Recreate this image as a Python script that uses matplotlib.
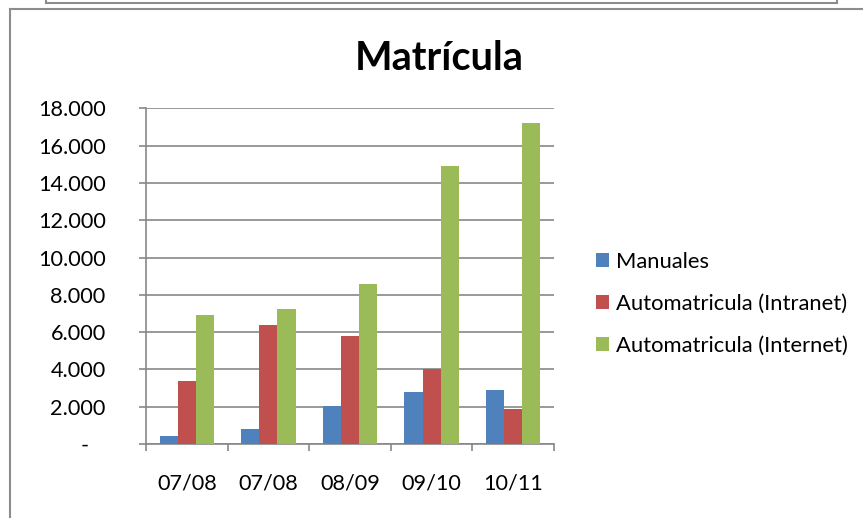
import numpy as np
import matplotlib.pyplot as plt
from matplotlib.lines import Line2D
from matplotlib.ticker import FuncFormatter, FixedLocator

# Matricula por curso
cursos = ['07/08', '07/08', '08/09', '09/10', '10/11']
manuales = [430, 800, 2040, 2800, 2900]
intranet = [3390, 6360, 5770, 4000, 1860]
internet = [6930, 7220, 8560, 14900, 17200]
series_names = ['Manuales', 'Automatricula (Intranet)', 'Automatricula (Internet)']
colors = ['#4F81BD', '#C0504D', '#9BBB59']

plt.rcParams['font.family'] = ['Lato', 'DejaVu Sans']

W, H = 863, 518
fig = plt.figure(figsize=(W / 100, H / 100), dpi=100)

def fx(px):
    return px / W

def fy(py):
    return 1 - py / H

# chart area, placed in pixel terms
ax = fig.add_axes([fx(146), fy(444), fx(554) - fx(146), fy(108.3) - fy(444)])

x = np.arange(len(cursos))
w = 1 / 4.5
for i, (vals, name, col) in enumerate(zip([manuales, intranet, internet], series_names, colors)):
    ax.bar(x + (i - 1) * w, vals, width=w, color=col, label=name, zorder=3)

ax.set_xlim(-0.5, len(cursos) - 0.5)
ax.set_ylim(0, 18000)
ax.set_yticks(np.arange(0, 18001, 2000))
# excel accounting style: zero shown as a dash
ax.yaxis.set_major_formatter(FuncFormatter(
    lambda v, p: '-   ' if v == 0 else f'{v:,.0f}'.replace(',', '.')))
ax.grid(axis='y', color='#878787', linewidth=1.2, zorder=0)

# category boundary ticks, labels at centers
ax.xaxis.set_major_locator(FixedLocator(np.arange(-0.5, len(cursos), 1)))
ax.xaxis.set_major_formatter(FuncFormatter(lambda v, p: ''))
ax.xaxis.set_minor_locator(FixedLocator(x))
ax.set_xticklabels(cursos, minor=True)
ax.tick_params(axis='x', which='major', length=5, width=1.2, color='#878787', direction='out')
ax.tick_params(axis='x', which='minor', length=0, pad=21, labelsize=15.6)
ax.tick_params(axis='y', length=5, width=1.2, color='#878787', direction='out', pad=24, labelsize=15.6)

for s in ['top', 'right']:
    ax.spines[s].set_visible(False)
for s in ['left', 'bottom']:
    ax.spines[s].set_color('#878787')
    ax.spines[s].set_linewidth(1.2)

fig.text(fx(439), fy(70), 'Matrícula', ha='center', va='baseline',
         fontsize=28.5, fontweight='bold')

handles, labels = ax.get_legend_handles_labels()
fig.legend(handles, labels, loc='center left', bbox_to_anchor=(fx(587), fy(303.5)),
           frameon=False, fontsize=15.8, handlelength=0.6, handleheight=0.6,
           handletextpad=0.33, labelspacing=1.0, borderaxespad=0)

# outer frames (excel sheet look)
fc = '#8c8c8c'
fig.add_artist(Line2D([fx(46), fx(837)], [fy(3), fy(3)], color=fc, lw=1.5))
fig.add_artist(Line2D([fx(46), fx(46)], [fy(3), 1], color=fc, lw=1.5))
fig.add_artist(Line2D([fx(837), fx(837)], [fy(3), 1], color=fc, lw=1.5))
fig.add_artist(Line2D([fx(9.5), 1], [fy(8.5), fy(8.5)], color=fc, lw=1.5))
fig.add_artist(Line2D([fx(9.5), fx(9.5)], [0, fy(8.5)], color=fc, lw=1.5))

fig.savefig('out.png', dpi=100)
